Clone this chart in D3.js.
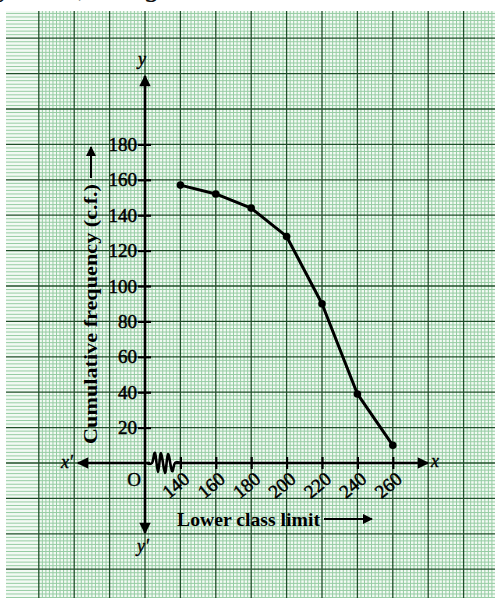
<!DOCTYPE html>
<html>
<head>
<meta charset="utf-8">
<script src="https://cdn.jsdelivr.net/npm/d3@7"></script>
<style>
  body { margin: 0; background: #fff; }
  svg { display: block; font-family: "Liberation Serif", "Times New Roman", serif; }
</style>
</head>
<body>
<svg id="chart"></svg>
<script>
const width = 495;
const height = 599;

const lowerLimits = [140, 160, 180, 200, 220, 240, 260];
const cumFreq = [157, 152, 144, 128, 90, 39, 10];
const yTicks = [20, 40, 60, 80, 100, 120, 140, 160, 180];
const xTicks = [140, 160, 180, 200, 220, 240, 260];

const svg = d3.select('#chart')
  .attr('width', width)
  .attr('height', height);

// graph paper area
const paper = { left: 6, top: 11, right: 495, bottom: 598 };

// origin at (145,463); one big square = 20 units on both axes (x axis broken before 140)
const x = d3.scaleLinear().domain([120, 260]).range([145, 392.8]);
const y = d3.scaleLinear().domain([0, 180]).range([463, 144.4]);

svg.append('clipPath').attr('id', 'paperClip')
  .append('rect')
  .attr('x', paper.left).attr('y', paper.top)
  .attr('width', paper.right - paper.left)
  .attr('height', paper.bottom - paper.top);

const grid = svg.append('g').attr('clip-path', 'url(#paperClip)');

grid.append('rect')
  .attr('x', paper.left).attr('y', paper.top)
  .attr('width', paper.right - paper.left)
  .attr('height', paper.bottom - paper.top)
  .attr('fill', '#f3faf4');

const xMinor = d3.range(60, 320, 2);
const yMinor = d3.range(-100, 280, 2);

grid.selectAll('.vminor')
  .data(xMinor.filter(d => d % 20 !== 0))
  .enter().append('line')
  .attr('x1', d => x(d)).attr('x2', d => x(d))
  .attr('y1', paper.top).attr('y2', paper.bottom)
  .attr('stroke', '#96cca3').attr('stroke-width', 1);

grid.selectAll('.hminor')
  .data(yMinor.filter(d => d % 20 !== 0))
  .enter().append('line')
  .attr('y1', d => y(d)).attr('y2', d => y(d))
  .attr('x1', paper.left).attr('x2', paper.right)
  .attr('stroke', '#96cca3').attr('stroke-width', 1);

grid.selectAll('.vmajor')
  .data(xMinor.filter(d => d % 20 === 0))
  .enter().append('line')
  .attr('x1', d => x(d)).attr('x2', d => x(d))
  .attr('y1', paper.top).attr('y2', paper.bottom)
  .attr('stroke', '#1f4f29').attr('stroke-width', 1.3);

grid.selectAll('.hmajor')
  .data(yMinor.filter(d => d % 20 === 0))
  .enter().append('line')
  .attr('y1', d => y(d)).attr('y2', d => y(d))
  .attr('x1', paper.left).attr('x2', paper.right)
  .attr('stroke', '#1f4f29').attr('stroke-width', 1.3);

// cut-off line of text from the page above (only descenders show)
const topLine = svg.append('text')
  .attr('y', -4)
  .attr('font-size', 30)
  .attr('font-style', 'italic')
  .attr('fill', '#111');
topLine.append('tspan').attr('x', 0).text('y');
topLine.append('tspan').attr('x', 78).text(',');
topLine.append('tspan').attr('x', 146).text('g');

// arrow heads
const defs = svg.append('defs');
defs.append('marker')
  .attr('id', 'arrow')
  .attr('viewBox', '0 0 10 10')
  .attr('refX', 9).attr('refY', 5)
  .attr('markerWidth', 5).attr('markerHeight', 4.4)
  .attr('markerUnits', 'strokeWidth')
  .attr('orient', 'auto')
  .append('path')
  .attr('d', 'M0,0 L10,5 L0,10 z')
  .attr('fill', '#000');

defs.append('marker')
  .attr('id', 'arrowSmall')
  .attr('viewBox', '0 0 10 10')
  .attr('refX', 9).attr('refY', 5)
  .attr('markerWidth', 6.5).attr('markerHeight', 5)
  .attr('markerUnits', 'strokeWidth')
  .attr('orient', 'auto')
  .append('path')
  .attr('d', 'M0,0 L10,5 L0,10 z')
  .attr('fill', '#000');

const x0 = x(120);
const y0 = y(0);

const axisG = svg.append('g');

// y axis (both directions)
axisG.append('line')
  .attr('x1', x0).attr('x2', x0)
  .attr('y1', y0).attr('y2', 76)
  .attr('stroke', '#000').attr('stroke-width', 2.6)
  .attr('marker-end', 'url(#arrow)');
axisG.append('line')
  .attr('x1', x0).attr('x2', x0)
  .attr('y1', y0).attr('y2', 533)
  .attr('stroke', '#000').attr('stroke-width', 2.6)
  .attr('marker-end', 'url(#arrow)');

// x axis (both directions)
axisG.append('line')
  .attr('x1', x0).attr('x2', 428)
  .attr('y1', y0).attr('y2', y0)
  .attr('stroke', '#000').attr('stroke-width', 2.6)
  .attr('marker-end', 'url(#arrow)');
axisG.append('line')
  .attr('x1', x0).attr('x2', 78)
  .attr('y1', y0).attr('y2', y0)
  .attr('stroke', '#000').attr('stroke-width', 2.6)
  .attr('marker-end', 'url(#arrow)');

// zig-zag break on x axis
axisG.append('rect')
  .attr('x', x0 + 5).attr('y', y0 - 2)
  .attr('width', 26).attr('height', 4)
  .attr('fill', '#f3faf4');
axisG.append('path')
  .attr('d', d3.line().curve(d3.curveCardinal)([
    [x0 + 2, y0], [x0 + 7, y0], [x0 + 10, y0 - 10], [x0 + 13, y0 + 9],
    [x0 + 16, y0 - 10], [x0 + 20, y0 + 10], [x0 + 23, y0 - 9], [x0 + 27, y0 + 8],
    [x0 + 30, y0], [x0 + 36, y0]
  ]))
  .attr('fill', 'none')
  .attr('stroke', '#000').attr('stroke-width', 2.6);

// y ticks + labels
const yAxis = d3.axisLeft(y)
  .tickValues(yTicks)
  .tickSize(0)
  .tickPadding(8);
const yAxisG = svg.append('g')
  .attr('transform', `translate(${x0},0)`)
  .call(yAxis);
yAxisG.select('.domain').remove();
yAxisG.selectAll('.tick').append('line')
  .attr('x1', -7).attr('x2', 6)
  .attr('stroke', '#000').attr('stroke-width', 2.2);
yAxisG.selectAll('text')
  .attr('font-family', '"Liberation Serif", serif')
  .attr('font-size', 19)
  .attr('fill', '#000')
  .attr('stroke', '#000').attr('stroke-width', 0.5);

// x ticks + rotated labels
const xAxis = d3.axisBottom(x)
  .tickValues(xTicks)
  .tickSize(0)
  .tickFormat(d3.format('d'));
const xAxisG = svg.append('g')
  .attr('transform', `translate(0,${y0})`)
  .call(xAxis);
xAxisG.select('.domain').remove();
xAxisG.selectAll('.tick').append('line')
  .attr('y1', -6).attr('y2', 6)
  .attr('stroke', '#000').attr('stroke-width', 2.2);
xAxisG.selectAll('text')
  .attr('font-family', '"Liberation Serif", serif')
  .attr('font-size', 19)
  .attr('fill', '#000')
  .attr('stroke', '#000').attr('stroke-width', 0.5)
  .attr('text-anchor', 'end')
  .attr('dy', null)
  .attr('y', 0)
  .attr('transform', 'translate(10,18) rotate(-40)');

// axis letters
const letters = [
  { t: 'y', px: x0 - 3, py: 65, italic: true },
  { t: "y\u2032", px: x0 - 2, py: 552, italic: true },
  { t: "x\u2032", px: 67, py: 468, italic: true },
  { t: 'x', px: 435, py: 467, italic: true },
  { t: 'O', px: 134, py: 486, italic: false }
];
svg.selectAll('.letter')
  .data(letters)
  .enter().append('text')
  .attr('x', d => d.px).attr('y', d => d.py)
  .attr('text-anchor', 'middle')
  .attr('font-size', d => d.italic ? 18 : 19)
  .attr('font-style', d => d.italic ? 'italic' : 'normal')
  .attr('fill', '#000')
  .attr('stroke', '#000').attr('stroke-width', 0.4)
  .text(d => d.t);

// axis titles
svg.append('text')
  .attr('x', 177).attr('y', 526)
  .attr('font-size', 19)
  .attr('font-weight', 'bold')
  .attr('textLength', 143)
  .attr('lengthAdjust', 'spacingAndGlyphs')
  .attr('fill', '#000')
  .text('Lower class limit');
svg.append('line')
  .attr('x1', 324).attr('x2', 372)
  .attr('y1', 519).attr('y2', 519)
  .attr('stroke', '#000').attr('stroke-width', 2)
  .attr('marker-end', 'url(#arrowSmall)');

svg.append('text')
  .attr('transform', 'translate(97,444) rotate(-90)')
  .attr('font-size', 19)
  .attr('font-weight', 'bold')
  .attr('textLength', 260)
  .attr('lengthAdjust', 'spacingAndGlyphs')
  .attr('fill', '#000')
  .text('Cumulative frequency (c.f.)');
svg.append('line')
  .attr('x1', 91).attr('x2', 91)
  .attr('y1', 178).attr('y2', 147)
  .attr('stroke', '#000').attr('stroke-width', 2)
  .attr('marker-end', 'url(#arrowSmall)');

// ogive
const pts = lowerLimits.map((d, i) => [x(d), y(cumFreq[i])]);
svg.append('path')
  .attr('d', d3.line()(pts))
  .attr('fill', 'none')
  .attr('stroke', '#000')
  .attr('stroke-width', 3)
  .attr('stroke-linejoin', 'round');
svg.selectAll('.dot')
  .data(pts)
  .enter().append('circle')
  .attr('cx', d => d[0]).attr('cy', d => d[1])
  .attr('r', 3.8)
  .attr('fill', '#000');
</script>
</body>
</html>
